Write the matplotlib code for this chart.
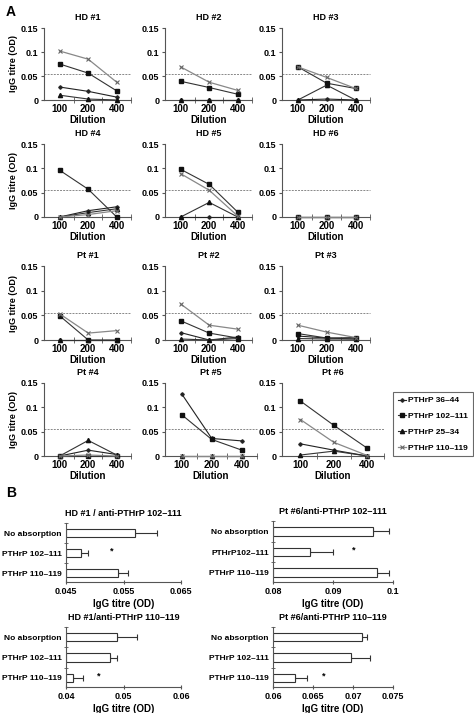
import matplotlib
matplotlib.use("Agg")
import matplotlib.pyplot as plt
from matplotlib.lines import Line2D
import numpy as np

plt.rcParams['font.family'] = ['Liberation Sans', 'DejaVu Sans']
plt.rcParams['font.weight'] = 'bold'
plt.rcParams['axes.linewidth'] = 0.8

# ---------------- data ----------------
dilutions = ["100", "200", "400"]
series = ["PTHrP 36–44", "PTHrP 102–111", "PTHrP 25–34", "PTHrP 110–119"]

# each: [36-44, 102-111, 25-34, 110-119] at dilutions 100, 200, 400
hd1 = [[0.027, 0.018, 0.006], [0.075, 0.056, 0.019], [0.010, 0.002, 0.0], [0.102, 0.085, 0.037]]
hd2 = [[0.0, 0.0, 0.0], [0.039, 0.026, 0.012], [0.0, 0.0, 0.0], [0.069, 0.037, 0.020]]
hd3 = [[0.0, 0.002, 0.0], [0.069, 0.035, 0.024], [0.0, 0.031, 0.0], [0.069, 0.047, 0.024]]
hd4 = [[0.0, 0.013, 0.021], [0.096, 0.057, 0.0], [0.0, 0.009, 0.017], [0.0, 0.005, 0.013]]
hd5 = [[0.0, 0.0, 0.0], [0.098, 0.067, 0.010], [0.0, 0.030, 0.0], [0.089, 0.055, 0.002]]
hd6 = [[0.0, 0.0, 0.0], [0.0, 0.0, 0.0], [0.0, 0.0, 0.0], [0.0, 0.0, 0.0]]
pt1 = [[0.0, 0.0, 0.0], [0.049, 0.0, 0.0], [0.0, 0.0, 0.0], [0.053, 0.014, 0.019]]
pt2 = [[0.015, 0.0, 0.006], [0.039, 0.014, 0.004], [0.002, 0.0, 0.003], [0.073, 0.030, 0.022]]
pt3 = [[0.008, 0.004, 0.002], [0.013, 0.004, 0.005], [0.003, 0.002, 0.002], [0.030, 0.016, 0.005]]
pt4 = [[0.0, 0.012, 0.003], [0.0, 0.0, 0.0], [0.0, 0.032, 0.002], [0.0, 0.002, 0.0]]
pt5 = [[0.128, 0.036, 0.031], [0.085, 0.034, 0.012], [0.0, 0.0, 0.0], [0.0, 0.0, 0.0]]
pt6 = [[0.025, 0.012, 0.0], [0.113, 0.063, 0.016], [0.002, 0.010, 0.0], [0.075, 0.028, 0.001]]

subjects = ["HD #1", "HD #2", "HD #3", "HD #4", "HD #5", "HD #6",
            "Pt #1", "Pt #2", "Pt #3", "Pt #4", "Pt #5", "Pt #6"]
subject_data = [hd1, hd2, hd3, hd4, hd5, hd6, pt1, pt2, pt3, pt4, pt5, pt6]
cutoff = 0.055

# Panel B
b_cats = ["No absorption", "PTHrP 102–111", "PTHrP 110–119"]
b_cats_alt = ["No absorption", "PTHrP102–111", "PTHrP 110–119"]
b_titles = ["HD #1 / anti-PTHrP 102–111", "Pt #6/anti-PTHrP 102–111",
            "HD #1/anti-PTHrP 110–119", "Pt #6/anti-PTHrP 110–119"]
hd1_102_mean = [0.0570, 0.0476, 0.0540]
hd1_102_err = [0.0038, 0.0013, 0.0017]
pt6_102_mean = [0.0967, 0.0862, 0.0974]
pt6_102_err = [0.0027, 0.0038, 0.0019]
hd1_110_mean = [0.0488, 0.0476, 0.0412]
hd1_110_err = [0.0036, 0.0012, 0.0017]
pt6_110_mean = [0.0711, 0.0698, 0.0628]
pt6_110_err = [0.0006, 0.0023, 0.0015]
b_xticks = [[0.045, 0.055, 0.065], [0.08, 0.09, 0.1], [0.04, 0.05, 0.06], [0.06, 0.065, 0.07, 0.075]]
b_xticklabels = [["0.045", "0.055", "0.065"], ["0.08", "0.09", "0.1"],
                 ["0.04", "0.05", "0.06"], ["0.06", "0.065", "0.07", "0.075"]]
star_cat = [1, 1, 2, 2]
star_x = [0.0529, 0.0935, 0.0457, 0.0663]

# ---------------- layout ----------------
W, H = 474, 713
fig = plt.figure(figsize=(W / 100, H / 100), dpi=100)


def rect(x0, y0, x1, y1):
    return [x0 / W, 1 - y1 / H, (x1 - x0) / W, (y1 - y0) / H]


col_x = [(44, 131), (165, 252), (282, 370)]
row_y = [(28, 100), (144, 217), (266, 340), (383, 456)]
special = {10: (165, 257), 11: (282, 384)}

styles = [
    dict(marker='P', markersize=2.2, color='#222222', mfc='#222222', mec='#222222', lw=0.8),
    dict(marker='s', markersize=3.0, color='#333333', mfc='#111111', mec='#111111', lw=0.8),
    dict(marker='^', markersize=3.0, color='#333333', mfc='#111111', mec='#111111', lw=0.8),
    dict(marker='x', markersize=3.0, color='#888888', mfc='#666666', mec='#666666', lw=0.9, mew=0.8),
]
fs = 6.5
xpos = np.arange(len(dilutions))

for i, (name, data) in enumerate(zip(subjects, subject_data)):
    r, c = divmod(i, 3)
    x0, x1 = special.get(i, col_x[c])
    y0, y1 = row_y[r]
    ax = fig.add_axes(rect(x0, y0, x1, y1))
    ax.plot([-0.55, 2.5], [cutoff, cutoff], ls=(0, (2, 1.2)), color='#888888', lw=0.7, clip_on=False)
    for k in range(4):
        ax.plot(xpos, data[k], clip_on=False, zorder=3, **styles[k])
    ax.set_xlim(-0.55, 2.5)
    ax.set_ylim(0, 0.15)
    ax.spines['top'].set_visible(False)
    ax.spines['right'].set_visible(False)
    ax.spines['left'].set_color('#555555')
    ax.spines['bottom'].set_color('#555555')
    ax.set_yticks([0, 0.05, 0.1, 0.15])
    ax.set_yticklabels(["0", "0.05", "0.1", "0.15"], fontsize=fs, fontweight='bold')
    ax.set_xticks(xpos)
    ax.set_xticklabels(dilutions, fontsize=fs + 0.5, fontweight='bold')
    ax.tick_params(axis='x', length=0, pad=3)
    ax.set_xticks([0.5, 1.5, 2.5], minor=True)
    ax.tick_params(axis='x', which='minor', length=4, direction='inout', color='#555555')
    ax.tick_params(axis='y', length=2.5, pad=1.5, color='#555555')
    ax.set_xlabel("Dilution", fontsize=fs + 0.5, fontweight='bold', labelpad=0.5)
    ax.set_title(name, fontsize=fs, fontweight='bold', pad=6)
    if c == 0:
        ax.set_ylabel("IgG titre (OD)", fontsize=fs, fontweight='bold', labelpad=2)

# legend
handles = [Line2D([0], [0], **styles[k]) for k in range(4)]
leg = fig.legend(handles, series, loc='upper left',
                 bbox_to_anchor=(393 / W, 1 - 392 / H), fontsize=6,
                 frameon=True, fancybox=False, edgecolor='#444444',
                 handlelength=1.0, handletextpad=0.3, labelspacing=0.95,
                 borderpad=0.55, borderaxespad=0.0)
leg.get_frame().set_linewidth(0.8)

# panel labels
fig.text(6 / W, 1 - 12 / H, "A", fontsize=10, fontweight='bold', va='center', ha='left')
fig.text(6 / W, 1 - 493 / H, "B", fontsize=10, fontweight='bold', va='center', ha='left')

# ---------------- panel B ----------------
b_rects = [(66, 523, 181, 582), (273, 521, 393, 582), (66, 627, 181, 687), (273, 627, 393, 687)]
b_means = [hd1_102_mean, pt6_102_mean, hd1_110_mean, pt6_110_mean]
b_errs = [hd1_102_err, pt6_102_err, hd1_110_err, pt6_110_err]
b_labels = [b_cats, b_cats_alt, b_cats, b_cats]

for j in range(4):
    ax = fig.add_axes(rect(*b_rects[j]))
    xl0, xl1 = b_xticks[j][0], b_xticks[j][-1]
    ypos = np.arange(3)
    widths = [m - xl0 for m in b_means[j]]
    ax.barh(ypos, widths, left=xl0, height=0.42, color='white', edgecolor='#333333',
            linewidth=0.8, zorder=2)
    ax.errorbar(b_means[j], ypos, xerr=[[0] * 3, b_errs[j]], fmt='none',
                ecolor='#333333', elinewidth=0.8, capsize=2, capthick=0.8, zorder=1)
    ax.text(star_x[j], star_cat[j] - 0.1, "*", fontsize=6.5, ha='center', va='center',
            fontweight='bold')
    ax.set_xlim(xl0, xl1)
    ax.set_ylim(2.45, -0.5)
    ax.spines['top'].set_visible(False)
    ax.spines['right'].set_visible(False)
    ax.spines['left'].set_color('#555555')
    ax.spines['bottom'].set_color('#555555')
    ax.set_xticks(b_xticks[j])
    ax.set_xticklabels(b_xticklabels[j], fontsize=fs, fontweight='bold')
    ax.set_yticks(ypos)
    ax.set_yticklabels(b_labels[j], fontsize=6, fontweight='bold')
    ax.tick_params(axis='y', length=0, pad=3)
    ax.set_yticks([-0.5, 0.5, 1.5], minor=True)
    ax.tick_params(axis='y', which='minor', length=3, direction='inout', color='#555555')
    ax.tick_params(axis='x', length=3, direction='inout', pad=2, color='#555555')
    ax.set_xlabel("IgG titre (OD)", fontsize=fs + 0.5, fontweight='bold', labelpad=2)
    ax.set_title(b_titles[j], fontsize=fs, fontweight='bold', pad=5)

fig.savefig("out.png", dpi=100)
